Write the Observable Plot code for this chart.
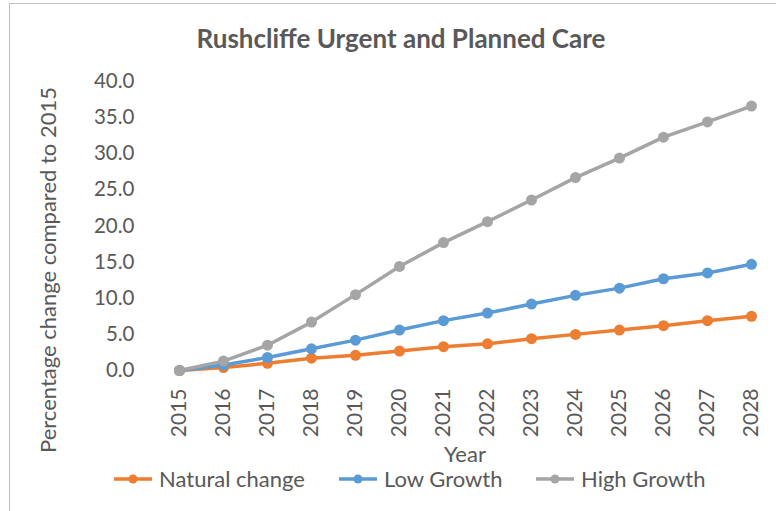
<!DOCTYPE html>
<html>
<head>
<meta charset="utf-8">
<script src="https://cdn.jsdelivr.net/npm/d3@7"></script>
<script src="https://cdn.jsdelivr.net/npm/@observablehq/plot@0.6"></script>
<style>
  html, body { margin: 0; padding: 0; background: #fff; }
  #wrap { position: relative; width: 776px; height: 511px; overflow: hidden; font-family: Lato, "Open Sans", sans-serif; color: #595959; }
  #frame { position: absolute; left: 9px; top: 3px; width: 800px; height: 600px; border-left: 1px solid #BFBFBF; border-top: 1px solid #BFBFBF; }
  #title { position: absolute; left: 0; width: 802px; top: 21px; text-align: center; font-size: 26px; font-weight: bold; line-height: 34px; }
  #chart { position: absolute; left: 0; top: 0; }
  #legend { position: absolute; left: 0; top: 465px; width: 776px; height: 30px; font-size: 22px; line-height: 28px; }
  .item { position: absolute; top: 0; display: flex; align-items: center; }
  .item span { margin-left: 6px; }
</style>
</head>
<body>
<div id="wrap">
  <div id="frame"></div>
  <div id="chart"></div>
  <div id="title">Rushcliffe Urgent and Planned Care</div>
  <div id="legend"></div>
</div>
<script>
const years = [2015, 2016, 2017, 2018, 2019, 2020, 2021, 2022, 2023, 2024, 2025, 2026, 2027, 2028];
const naturalChange = [0, 0.4, 1.0, 1.7, 2.1, 2.7, 3.3, 3.7, 4.4, 5.0, 5.6, 6.2, 6.9, 7.5];
const lowGrowth = [0, 0.75, 1.8, 3.0, 4.2, 5.6, 6.9, 7.95, 9.2, 10.4, 11.4, 12.7, 13.5, 14.7];
const highGrowth = [0, 1.3, 3.5, 6.7, 10.5, 14.4, 17.7, 20.6, 23.6, 26.7, 29.4, 32.3, 34.4, 36.6];
const seriesNames = ["Natural change", "Low Growth", "High Growth"];
const seriesColors = ["#ED7D31", "#5B9BD5", "#A5A5A5"];
const yTicks = [0, 5, 10, 15, 20, 25, 30, 35, 40];

const seriesValues = [naturalChange, lowGrowth, highGrowth];
const rows = [];
seriesNames.forEach((name, i) => {
  years.forEach((yr, j) => rows.push({series: name, year: String(yr), value: seriesValues[i][j]}));
});

const font = "Lato, 'Open Sans', sans-serif";
const plot = Plot.plot({
  width: 776,
  height: 511,
  marginLeft: 157,
  marginRight: 3,
  marginTop: 81,
  marginBottom: 141,
  style: {fontFamily: font, fontSize: "20px", color: "#595959", background: "transparent"},
  x: {type: "point", domain: years.map(String), padding: 0.5, label: null},
  y: {domain: [0, 40], label: null},
  color: {domain: seriesNames, range: seriesColors},
  marks: [
    Plot.gridY(yTicks, {stroke: "#D9D9D9", strokeOpacity: 1, strokeWidth: 1.5, x1: 157, x2: 773}),
    Plot.axisY(yTicks, {tickSize: 0, tickPadding: 23, tickFormat: d => d.toFixed(1), fill: "#595959", fontSize: 20.5, label: null}),
    Plot.axisX({tickSize: 0, tickPadding: 18, tickRotate: -90, fill: "#595959", fontSize: 21, label: null}),
    Plot.line(rows, {x: "year", y: "value", z: "series", stroke: "series", strokeWidth: 3.5, strokeLinecap: "round", strokeLinejoin: "round"}),
    Plot.dot(rows, {x: "year", y: "value", fill: "series", r: 5.5, stroke: null})
  ]
});
document.getElementById("chart").appendChild(plot);

// axis titles
const svg = d3.select(plot);
svg.append("text")
  .attr("transform", "translate(50,270) rotate(-90)")
  .attr("text-anchor", "middle")
  .attr("dominant-baseline", "middle")
  .attr("fill", "#595959")
  .style("font-size", "22px")
  .text("Percentage change compared to 2015");
svg.append("text")
  .attr("x", 465)
  .attr("y", 456)
  .attr("text-anchor", "middle")
  .attr("dominant-baseline", "middle")
  .attr("fill", "#595959")
  .style("font-size", "22px")
  .text("Year");

// legend
const legendLeft = [113, 338, 535];
const legend = d3.select("#legend");
seriesNames.forEach((name, i) => {
  const item = legend.append("div").attr("class", "item").style("left", legendLeft[i] + "px");
  const sw = item.append("svg").attr("width", 40).attr("height", 14);
  sw.append("line").attr("x1", 1).attr("x2", 39).attr("y1", 7).attr("y2", 7)
    .attr("stroke", seriesColors[i]).attr("stroke-width", 3.5);
  sw.append("circle").attr("cx", 20).attr("cy", 7).attr("r", 4.5).attr("fill", seriesColors[i]);
  item.append("span").text(name);
});
</script>
</body>
</html>
